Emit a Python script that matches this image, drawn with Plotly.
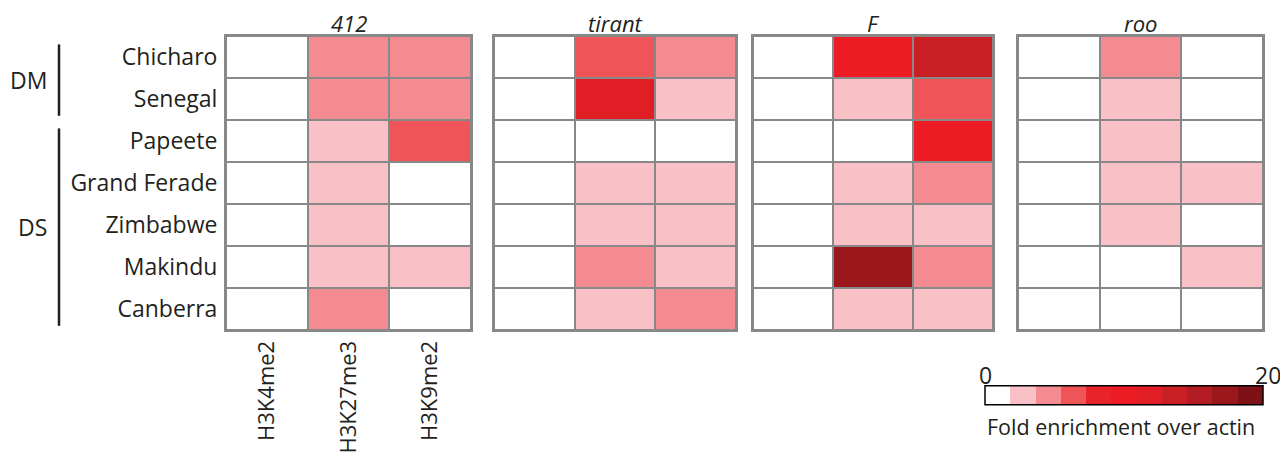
import plotly.graph_objects as go

# ---- data ----
strains = ["Chicharo", "Senegal", "Papeete", "Grand Ferade", "Zimbabwe", "Makindu", "Canberra"]
marks = ["H3K4me2", "H3K27me3", "H3K9me2"]
elements = ["412", "tirant", "F", "roo"]

# fold enrichment over actin (rows = strains, cols = marks)
v_412 = [[0, 4.5, 4.4], [0, 4.6, 4.4], [0, 2.6, 6.5], [0, 2.5, 0], [0, 2.5, 0], [0, 2.6, 2.4], [0, 4.5, 0]]
v_tirant = [[0, 6.5, 4.4], [0, 11.5, 2.5], [0, 0, 0], [0, 2.6, 2.5], [0, 2.5, 2.6], [0, 4.5, 2.5], [0, 2.5, 4.6]]
v_F = [[0, 9.8, 13.5], [0, 2.5, 6.4], [0, 0, 10.0], [0, 2.6, 4.5], [0, 2.5, 2.4], [0, 17.0, 4.4], [0, 2.5, 2.6]]
v_roo = [[0, 4.5, 0], [0, 2.5, 0], [0, 2.6, 0], [0, 2.5, 2.4], [0, 2.6, 0], [0, 0, 2.5], [0, 0, 0]]

groups = ["DM", "DS"]
group_spans = [(-0.3, 1.4), (1.7, 6.4)]
zmin, zmax = 0, 20
bin_colors = ["#FFFFFF", "#F9C0C5", "#F38B90", "#EF5459", "#E8232A", "#ED1C24",
              "#E11E26", "#CB1F26", "#B31C22", "#9A171C", "#7E1115"]

# ---- figure geometry (page has an 8px body margin) ----
OFF = 8
W, H = 1288 - OFF, 457 - OFF
plot_l, plot_r, plot_t, plot_b = 226, 1263, 36, 330   # window pixel coords
L, R = plot_l - OFF, W - (plot_r - OFF)
T, B = plot_t - OFF, H - (plot_b - OFF)
pw = plot_r - plot_l
ph = plot_b - plot_t

def X(p):
    return (p - plot_l) / pw

def Y(p):
    return (plot_b - p) / ph

domains = [(226, 471), (494, 736), (753, 993), (1018, 1263)]
values = [v_412, v_tirant, v_F, v_roo]

n = len(bin_colors)
cscale = []
for i, c in enumerate(bin_colors):
    cscale.append([i / n, c])
    cscale.append([(i + 1) / n, c])

txt = "#231F20"
FONT = "Open Sans"
FS = 23
fig = go.Figure()
grid = "#888888"

for i, (name, z) in enumerate(zip(elements, values)):
    ax = "" if i == 0 else str(i + 1)
    fig.add_trace(go.Heatmap(
        z=z, x=marks, y=strains, coloraxis="coloraxis",
        xgap=2, ygap=2, xaxis="x" + ax, yaxis="y" + ax,
        hovertemplate=name + " %{y} %{x}: %{z}<extra></extra>",
    ))
    d0, d1 = domains[i]
    fig.layout["xaxis" + ax] = dict(
        domain=[X(d0), X(d1)], anchor="y" + ax, showgrid=False, zeroline=False,
        showline=True, linecolor=grid, linewidth=2, mirror=True,
        showticklabels=(i == 0), tickangle=-90, ticks="", ticklen=0,
        tickfont=dict(size=22, color=txt, family=FONT),
        fixedrange=True,
    )
    fig.layout["yaxis" + ax] = dict(
        domain=[0, 1], anchor="x" + ax, showgrid=False, zeroline=False,
        autorange="reversed", showline=True, linecolor=grid, linewidth=2, mirror=True,
        showticklabels=(i == 0), ticks="outside", ticklen=2,
        tickcolor="rgba(0,0,0,0)", tickfont=dict(size=FS, color=txt, family=FONT),
        fixedrange=True,
    )
    fig.add_annotation(text="<i>" + name + "</i>", xref="x" + ax + " domain", x=0.5,
                       yref="paper", y=Y(23.5), yanchor="middle", showarrow=False,
                       font=dict(size=22, color=txt, family=FONT))

# group labels and bars
for g, (a, b) in zip(groups, group_spans):
    fig.add_shape(type="line", xref="paper", yref="y", x0=X(59), x1=X(59),
                  y0=a, y1=b, line=dict(color="#231F20", width=2.5))
    fig.add_annotation(text=g, xref="paper", yref="y", x=X(49), y=(a + b) / 2,
                       xanchor="right", yanchor="middle", showarrow=False,
                       font=dict(size=FS, color=txt, family=FONT))

# colorbar labels
fig.add_annotation(text=str(zmin), xref="paper", yref="paper", x=X(985), y=Y(375),
                   xanchor="center", yanchor="middle", showarrow=False,
                   font=dict(size=FS, color=txt, family=FONT))
fig.add_annotation(text=str(zmax), xref="paper", yref="paper", x=X(1268), y=Y(375),
                   xanchor="center", yanchor="middle", showarrow=False,
                   font=dict(size=FS, color=txt, family=FONT))
fig.add_annotation(text="Fold enrichment over actin", xref="paper", yref="paper",
                   x=X(1121), y=Y(426), xanchor="center", yanchor="middle",
                   showarrow=False, font=dict(size=21.5, color=txt, family=FONT))

fig.update_layout(
    width=W, height=H, margin=dict(l=L, r=R, t=T, b=B, autoexpand=False),
    paper_bgcolor="white", plot_bgcolor=grid,
    font=dict(family=FONT, color=txt),
    coloraxis=dict(
        cmin=zmin, cmax=zmax, colorscale=cscale,
        colorbar=dict(orientation="h", x=X(985), xanchor="left", y=Y(396),
                      yanchor="middle", len=278, lenmode="pixels", thickness=19,
                      thicknessmode="pixels", xpad=0, ypad=0, outlinewidth=1.5,
                      outlinecolor="black", showticklabels=False, ticks=""),
    ),
    showlegend=False,
)

fig.write_html("out.html")
